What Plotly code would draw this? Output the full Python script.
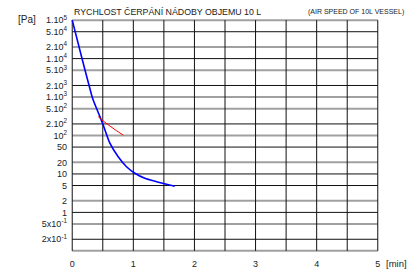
import plotly.graph_objects as go

# ---- data ----
blue_t = [0.0, 0.158, 0.317, 0.343, 0.453, 0.507, 0.616, 0.752, 0.889, 1.025, 1.188, 1.379, 1.542, 1.678]
blue_p = [1e5, 1.04e4, 1135, 840, 309, 187, 63, 28, 15.4, 10.4, 7.7, 6.3, 5.4, 4.8]

red_t = [0.425, 0.52, 0.616, 0.72, 0.833]
red_p = [309, 230, 177, 135, 103]

y_tickvals = [1e5, 5e4, 2e4, 1e4, 5e3, 2e3, 1e3, 5e2, 2e2, 1e2, 50, 20, 10, 5, 2, 1, 0.5, 0.2, 0.1]
y_ticktext = ["1.10<sup>5</sup>", "5.10<sup>4</sup>", "2.10<sup>4</sup>", "1.10<sup>4</sup>",
              "5.10<sup>3</sup>", "2.10<sup>3</sup>", "1.10<sup>3</sup>", "5.10<sup>2</sup>",
              "2.10<sup>2</sup>", "10<sup>2</sup>", "50", "20", "10", "5", "2", "1",
              "5x10<sup>-1</sup>", "2x10<sup>-1</sup>", ""]
y_gridkind = ["g", "k", "g", "k", "g", "k", "g", "g", "k", "g", "k", "g", "k", "k", "g", "k", "g", "k", "g"]

x_gridvals = [0, 0.5, 1, 1.5, 2, 2.5, 3, 3.5, 4, 4.5, 5]
x_tickvals = [0, 1, 2, 3, 4, 5]
x_ticktext = ["0", "1", "2", "3", "4", "5"]

title_cz = "RYCHLOST ČERPÁNÍ NÁDOBY OBJEMU 10 L"
title_en = "(AIR SPEED OF 10L VESSEL)"

fig = go.Figure()

# horizontal grid lines
for v, k in zip(y_tickvals, y_gridkind):
    fig.add_trace(go.Scatter(
        x=[0, 5], y=[v, v], mode="lines", hoverinfo="skip", showlegend=False,
        line=dict(color="#a0a0a0" if k == "g" else "#111111", width=2 if k == "g" else 1)))

# vertical grid lines
for xv in x_gridvals:
    fig.add_trace(go.Scatter(
        x=[xv, xv], y=[0.1, 1e5], mode="lines", hoverinfo="skip", showlegend=False,
        line=dict(color="#111111", width=1)))

fig.add_trace(go.Scatter(x=blue_t, y=blue_p, mode="lines", showlegend=False,
                         line=dict(color="#0000ff", width=1.6, shape="spline", smoothing=0.6)))
fig.add_trace(go.Scatter(x=red_t, y=red_p, mode="lines", showlegend=False,
                         line=dict(color="#ff0000", width=1, shape="spline")))

fig.update_layout(
    width=416, height=274,
    margin=dict(l=71, r=37, t=19, b=22, autoexpand=False),
    paper_bgcolor="white", plot_bgcolor="white",
    font=dict(family="Liberation Sans, Arial, sans-serif", size=9, color="#222222"),
    xaxis=dict(range=[-0.02, 5.02], showgrid=False, zeroline=False, showline=False,
               tickmode="array", tickvals=x_tickvals, ticktext=x_ticktext, ticks="",
               ticklabelstandoff=5, automargin=False),
    yaxis=dict(type="log", range=[-1.03, 5.03], showgrid=False, zeroline=False, showline=False,
               tickmode="array", tickvals=y_tickvals, ticktext=y_ticktext, ticks="",
               ticklabelstandoff=3, automargin=False),
    annotations=[
        dict(text=title_cz, x=0.003, xref="paper", y=1, yref="paper", xanchor="left",
             yanchor="bottom", yshift=0, showarrow=False, font=dict(size=8.8, color="#222222")),
        dict(text=title_en, x=1.088, xref="paper", xanchor="right", y=1, yref="paper",
             yanchor="bottom", yshift=1, showarrow=False, font=dict(size=7, color="#222222")),
        dict(text="[Pa]", x=-0.179, xref="paper", y=0.996, yref="paper", yanchor="middle",
             showarrow=False, font=dict(size=10, color="#222222")),
        dict(text="[min]", x=1.016, xref="paper", xanchor="left", y=-0.05, yref="paper",
             yanchor="middle", showarrow=False, font=dict(size=9.5, color="#222222")),
    ],
)

fig.write_html("out.html", config={"displayModeBar": False},
               post_script="document.body.style.margin='0';document.body.style.padding='0';")
